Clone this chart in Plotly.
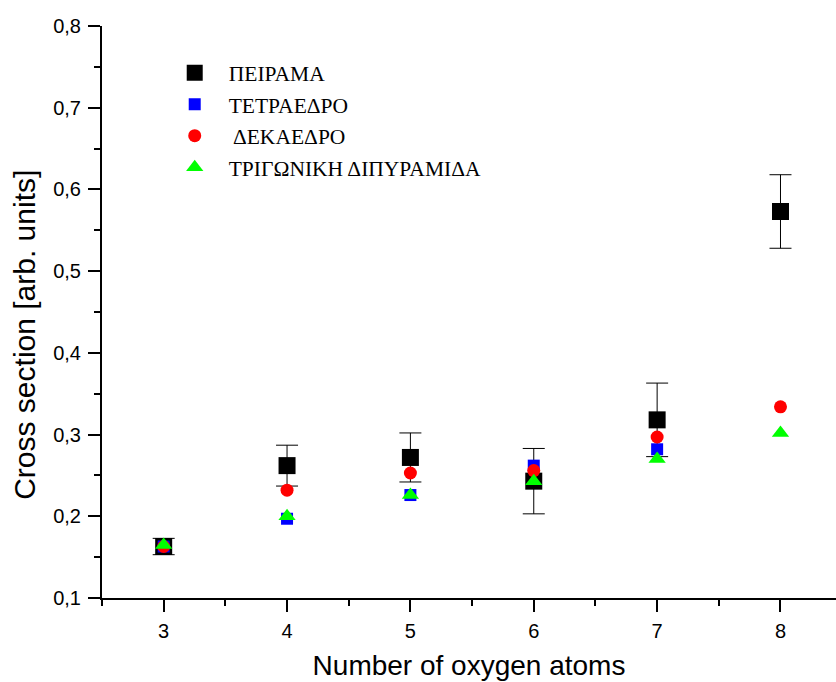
import plotly.graph_objects as go

# Number of oxygen atoms
atoms = [3, 4, 5, 6, 7, 8]

# Measured cross sections with their uncertainties
experiment = [0.163, 0.262, 0.272, 0.243, 0.318, 0.573]
experiment_err = [0.010, 0.025, 0.030, 0.040, 0.045, 0.045]

# Model predictions
tetrahedron = [0.163, 0.197, 0.226, 0.262, 0.282, None]
decahedron = [0.163, 0.232, 0.253, 0.256, 0.297, 0.334]
bipyramid = [0.165, 0.200, 0.226, 0.243, 0.270, 0.302]

names = ["ΠΕΙΡΑΜΑ", "ΤΕΤΡΑΕΔΡΟ", " ΔΕΚΑΕΔΡΟ", "ΤΡΙΓΩΝΙΚΗ ΔΙΠΥΡΑΜΙΔΑ"]

fig = go.Figure()

fig.add_trace(go.Scatter(
    x=atoms, y=experiment, mode="markers", name=names[0], legendgroup="a",
    marker=dict(symbol="square", size=17, color="black", line=dict(width=0)),
    error_y=dict(type="data", array=experiment_err, visible=True,
                 color="black", thickness=1, width=11),
))
fig.add_trace(go.Scatter(
    x=atoms, y=tetrahedron, mode="markers", name=names[1], legendgroup="b",
    marker=dict(symbol="square", size=12, color="#0000ff", line=dict(width=0)),
))
fig.add_trace(go.Scatter(
    x=atoms, y=decahedron, mode="markers", name=names[2], legendgroup="c",
    marker=dict(symbol="circle", size=13, color="#ff0000", line=dict(width=0)),
))
fig.add_trace(go.Scatter(
    x=atoms, y=bipyramid, mode="markers", name=names[3], legendgroup="d",
    marker=dict(symbol="triangle-up", size=15, color="#00ff00", line=dict(width=0)),
))

sans = "Liberation Sans, Arial, sans-serif"
axis_font = dict(family=sans, size=20, color="black")

fig.update_layout(
    width=836, height=682,
    margin=dict(l=102, r=0, t=26, b=84),
    paper_bgcolor="white", plot_bgcolor="white",
    separators=", ",
    showlegend=True,
    legend=dict(
        x=0.080, y=0.954, xanchor="left", yanchor="top",
        bgcolor="rgba(0,0,0,0)",
        font=dict(family="Liberation Serif", size=21.5, color="black"),
        tracegroupgap=0.5, itemsizing="trace", itemwidth=58,
    ),
    xaxis=dict(
        range=[2.5, 8.45], tickmode="linear", tick0=3, dtick=1,
        showgrid=False, zeroline=False,
        showline=True, linecolor="black", linewidth=2, mirror=False,
        ticks="outside", ticklen=12, tickwidth=2, tickcolor="black",
        minor=dict(dtick=0.5, tick0=2.5, ticks="outside", ticklen=6, tickwidth=2, tickcolor="black"),
        tickfont=axis_font, ticklabelstandoff=2,
        title=dict(text="Number of oxygen atoms", standoff=14,
                   font=dict(family=sans, size=28, color="black")),
    ),
    yaxis=dict(
        range=[0.1, 0.8], tickmode="linear", tick0=0.1, dtick=0.1, tickformat=".1f",
        showgrid=False, zeroline=False,
        showline=True, linecolor="black", linewidth=2, mirror=False,
        ticks="outside", ticklen=12, tickwidth=2, tickcolor="black",
        minor=dict(dtick=0.05, ticks="outside", ticklen=6, tickwidth=2, tickcolor="black"),
        tickfont=axis_font, ticklabelstandoff=3,
    ),
    annotations=[dict(
        text="Cross section [arb. units]", textangle=-90,
        xref="paper", yref="paper", x=-0.105, y=0.46,
        xanchor="center", yanchor="middle", showarrow=False,
        font=dict(family=sans, size=30, color="black"),
    )],
)

fig.write_html("out.html")
